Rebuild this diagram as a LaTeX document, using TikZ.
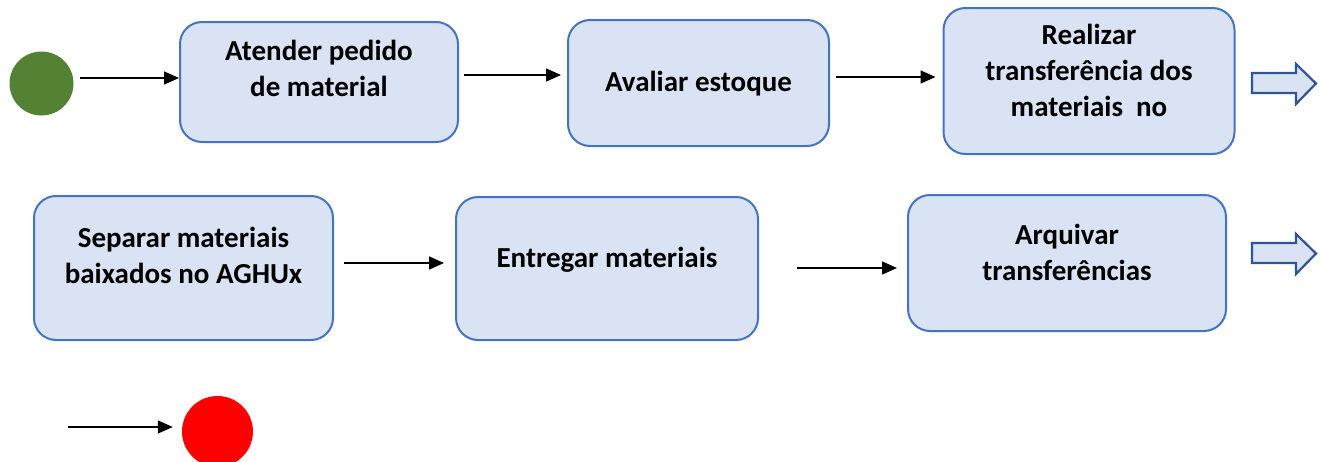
\documentclass[tikz,border=0pt]{standalone}
\usepackage{fontspec}
\setmainfont{Carlito}
\usetikzlibrary{arrows.meta}
\definecolor{boxfill}{HTML}{DAE3F3}
\definecolor{boxline}{HTML}{4472C4}
\definecolor{barrow}{HTML}{2F5597}
\definecolor{startg}{HTML}{548235}
\definecolor{endr}{HTML}{FF0000}
\newcommand\mybt[2]{\raisebox{#1}[\height][\depth]{\begin{tabular}{@{}c@{}}#2\end{tabular}}}
\begin{document}
\begin{tikzpicture}[x=1pt,y=-1pt,
  stepbox/.style={draw=boxline, line width=2pt, fill=boxfill, rounded corners=22pt,
    font=\fontsize{29}{36}\selectfont\bfseries, inner sep=0pt},
  flow/.style={-{Triangle[length=15pt,width=13pt]}, line width=1.5pt},
  blockarrow/.style={draw=barrow, fill=boxfill, line width=2.2pt, line join=miter}]
\useasboundingbox (0,0) rectangle (1326,461);
% start / end
\node[circle, fill=startg, minimum size=64pt, inner sep=0pt] (start) at (41.5,83.5) {};
\node[circle, fill=endr, minimum size=71pt, inner sep=0pt] (stop) at (217.5,431.5) {};
% row 1
\node[stepbox, minimum width=278pt, minimum height=120pt] (b1) at (319,82) {\mybt{11pt}{Atender pedido\\de material}};
\node[stepbox, minimum width=261pt, minimum height=126pt] (b2) at (698.5,83) {\mybt{-1pt}{Avaliar estoque}};
\node[stepbox, minimum width=291pt, minimum height=146pt] (b3) at (1089,81) {\mybt{8pt}{Realizar\\transferência dos\\materiais~ no}};
% row 2
\node[stepbox, minimum width=299pt, minimum height=144pt] (b4) at (183.5,268) {\mybt{10pt}{Separar materiais\\baixados no AGHUx}};
\node[stepbox, minimum width=302pt, minimum height=143pt] (b5) at (607,268.5) {\mybt{8pt}{Entregar materiais}};
\node[stepbox, minimum width=318pt, minimum height=136pt] (b6) at (1067,263) {\mybt{8pt}{Arquivar\\transferências}};
% connectors
\draw[flow, shorten <=6.5pt] (start.east |- 0,78) -- (b1.west |- 0,78);
\draw[flow, shorten <=5pt, shorten >=6pt] (b1.east |- 0,75) -- (b2.west |- 0,75);
\draw[flow, shorten <=6pt, shorten >=7pt] (b2.east |- 0,77) -- (b3.west |- 0,77);
\draw[flow, shorten <=10pt, shorten >=11pt] (b4.east |- 0,263) -- (b5.west |- 0,263);
\draw[flow, shorten <=38pt, shorten >=10pt] (b5.east |- 0,268) -- (b6.west |- 0,268);
\coordinate (endsrc) at (68,427);
\draw[flow, shorten >=9pt] (endsrc) -- (stop.west |- endsrc);
% continuation block arrows
\draw[blockarrow] (1252,73) -- (1296,73) -- (1296,64) -- (1316,83.5) -- (1296,104) -- (1296,93) -- (1252,93) -- cycle;
\draw[blockarrow] (1252,243) -- (1296,243) -- (1296,234) -- (1316,253.5) -- (1296,274) -- (1296,263) -- (1252,263) -- cycle;
\end{tikzpicture}
\end{document}
